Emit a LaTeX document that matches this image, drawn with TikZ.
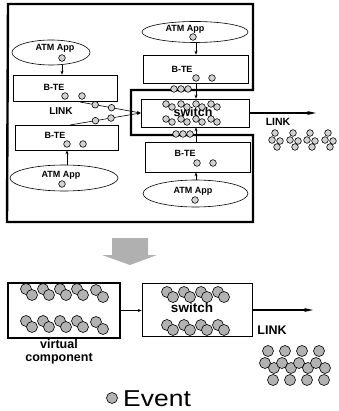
\documentclass[tikz,border=0pt]{standalone}
\usepackage{fontspec}
\setmainfont{Liberation Sans}
\usetikzlibrary{shapes.geometric,arrows.meta,calc}
\begin{document}
\begin{tikzpicture}[x=1pt,y=-1pt,
  lbl/.style={font=\bfseries\fontsize{9}{10}\selectfont, inner sep=0},
  app/.style={ellipse, draw, line width=0.6pt, inner sep=0},
  bte/.style={draw, line width=0.6pt, inner sep=0},
  evs/.style={draw, line width=0.6pt, fill=gray!35},
  evl/.style={draw, line width=0.6pt, fill=gray!60},
  arr/.style={-{Stealth[length=4pt,width=3pt]}, line width=0.6pt},
  linkarr/.style={-{Stealth[length=9pt,width=4pt]}, line width=1.3pt},
  thickline/.style={line width=2.4pt, line join=miter},
]
\useasboundingbox (0,0) rectangle (338,411);

% ---------- top diagram ----------
\draw[thickline] (8,4) -- (253,4) -- (253,90) -- (131,90) -- (131,135) -- (253,135) -- (253,222) -- (7,222) -- cycle;

% top-left
\node[app, minimum width=78pt, minimum height=25pt] (appTL) at (51,52.5) {};
\node[lbl] (tAppTL) at (55,48) {ATM App};
\draw[evs] (62,58) circle (3.3pt);
\node[bte, minimum width=104pt, minimum height=26pt] (bteTL) at (65,88) {};
\node[lbl] (tBteTL) at (54,87) {B-TE};
\draw[evs] (65,96) circle (3.3pt);
\draw[evs] (82,96) circle (3.3pt);
\coordinate (aTL) at (62,0);
\draw[arr] (appTL.south -| aTL) -- (bteTL.north -| aTL);

% bottom-left
\node[bte, minimum width=103pt, minimum height=25pt] (bteBL) at (66.5,137.5) {};
\node[lbl] (tBteBL) at (55,135) {B-TE};
\draw[evs] (67,144) circle (3.3pt);
\draw[evs] (83,144) circle (3.3pt);
\node[app, minimum width=108pt, minimum height=26pt] (appBL) at (64,178) {};
\node[lbl] (tAppBL) at (61,175) {ATM App};
\draw[evs] (62,184) circle (3.3pt);
\coordinate (aBL) at (67,0);
\draw[arr] (appBL.north -| aBL) -- (bteBL.south -| aBL);

% top-right
\node[app, minimum width=106pt, minimum height=21pt] (appTR) at (195,32) {};
\node[lbl] (tAppTR) at (185,29) {ATM App};
\draw[evs] (193,37) circle (3.3pt);
\node[bte, minimum width=105pt, minimum height=28pt] (bteTR) at (195.5,69) {};
\node[lbl] (tBteTR) at (182,69) {B-TE};
\draw[evs] (196,78) circle (3.3pt);
\draw[evs] (212,78) circle (3.3pt);
\coordinate (aTR) at (196,0);
\draw[arr] (appTR.south -| aTR) -- (bteTR.north -| aTR);

% switch
\node[bte, minimum width=108pt, minimum height=28pt] (swT) at (195,113) {};
\node[lbl, font=\bfseries\fontsize{12.5}{13}\selectfont] (tSwT) at (193,112) {switch};
\foreach \r in {104,119} {
  \foreach \x in {166,181,196,211} {
    \draw[evs] (\x,\r) circle (3.3pt);
    \draw[evs] (\x+6,\r+3) circle (3.3pt);
  }
}
\draw[arr] (bteTR.south -| aTR) -- (swT.north -| aTR);

% bottom-right
\node[bte, minimum width=105pt, minimum height=30pt] (bteBR) at (197.5,157) {};
\node[lbl] (tBteBR) at (185,153) {B-TE};
\draw[evs] (197,163) circle (3.3pt);
\draw[evs] (213,163) circle (3.3pt);
\node[app, minimum width=105pt, minimum height=27pt] (appBR) at (195.5,193.5) {};
\node[lbl] (tAppBR) at (193,191) {ATM App};
\draw[evs] (195,200) circle (3.3pt);
\draw[arr] (appBR.north -| aTR) -- (bteBR.south -| aTR);
\draw[arr] (bteBR.north -| aTR) -- (swT.south -| aTR);

% events on thick line
\foreach \x in {174,181,188} {\draw[evs] (\x,89) circle (3.3pt);}
\foreach \x in {176,183,190} {\draw[evs] (\x,134) circle (3.3pt);}

% left links
\coordinate (l1) at (80,102);
\coordinate (l2) at (70,125);
\draw[arr] (l1) -- (swT.west);
\draw[arr] (l2) -- (swT.west);
\draw[evs] ($(l1)!0.25!(swT.west)$) circle (3.3pt);
\draw[evs] ($(l1)!0.52!(swT.west)$) circle (3.3pt);
\draw[evs] ($(l2)!0.36!(swT.west)$) circle (3.3pt);
\draw[evs] ($(l2)!0.58!(swT.west)$) circle (3.3pt);
\node[lbl, font=\bfseries\fontsize{10}{11}\selectfont] (tLinkL) at (61,111) {LINK};

% right link
\coordinate (linkT) at (316,113);
\draw[linkarr] (swT.east) -- (linkT);
\node[lbl, font=\bfseries\fontsize{10.5}{11}\selectfont] (tLinkT) at (278,122) {LINK};
\foreach \g in {275,293,310,328} {
  \draw[evs] (\g,133) circle (3.3pt);
  \draw[evs] (\g-3,140) circle (3.3pt);
  \draw[evs] (\g+5,141) circle (3.3pt);
  \draw[evs] (\g+2,147) circle (3.3pt);
}

% ---------- big arrow ----------
\fill[gray!62] (112,238) -- (148,238) -- (148,255) -- (157,255) -- (130,265) -- (102,255) -- (112,255) -- cycle;

% ---------- bottom diagram ----------
\node[draw, line width=2.2pt, minimum width=112pt, minimum height=55pt, inner sep=0] (vc) at (64,310.5) {};
\foreach \r in {289,321} {
  \foreach \x in {26,43,60,77} {
    \draw[evl] (\x,\r) circle (5.5pt);
    \draw[evl] (\x+6,\r+6) circle (5.5pt);
  }
  \draw[evl] (96,\r+1) circle (5.5pt);
  \draw[evl] (103,\r+8) circle (5.5pt);
}
\node[lbl, font=\bfseries\fontsize{12.5}{13}\selectfont, align=center] (tVc) at (59,352) {virtual\\component};

\node[bte, minimum width=110pt, minimum height=53pt] (swB) at (197,309.5) {};
\node[lbl, font=\bfseries\fontsize{13.5}{14}\selectfont] (tSwB) at (192,308) {switch};
\foreach \r in {292,325} {
  \foreach \x in {167,184,201,218} {
    \draw[evl] (\x,\r) circle (5.5pt);
    \draw[evl] (\x+6,\r+5) circle (5.5pt);
  }
}
\draw[arr] (vc.east) -- (vc.east -| swB.west);

\coordinate (linkB) at (313,310);
\draw[linkarr] (swB.east |- linkB) -- (linkB);
\node[lbl, font=\bfseries\fontsize{12.5}{13}\selectfont] (tLinkB) at (272,330) {LINK};
\foreach \g in {268,285,302,319} {
  \draw[evl] (\g,351) circle (5.5pt);
  \draw[evl] (\g-3,363) circle (5.5pt);
  \draw[evl] (\g+6,368) circle (5.5pt);
  \draw[evl] (\g+5,380) circle (5.5pt);
}

% legend
\draw[evl] (112,398) circle (5.5pt);
\node[anchor=west, inner sep=0, xscale=1.15, font=\fontsize{23}{25}\selectfont] (tEvent) at (123,399) {Event};
\end{tikzpicture}
\end{document}
